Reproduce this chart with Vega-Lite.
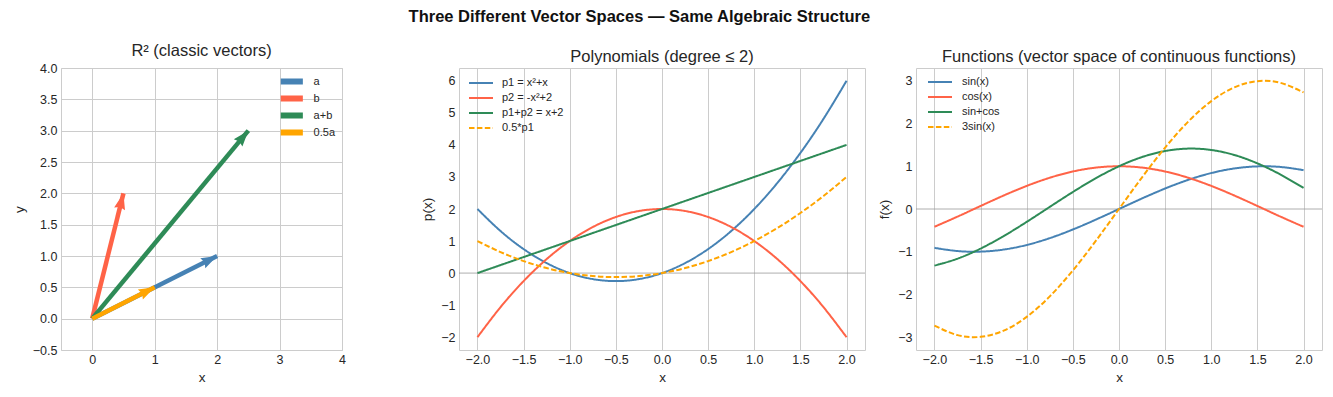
{
  "$schema": "https://vega.github.io/schema/vega-lite/v6.json",
  "padding": {"left": 11, "top": 8, "right": 5, "bottom": 5},
  "title": {"text": "Three Different Vector Spaces — Same Algebraic Structure", "fontSize": 16.5, "fontWeight": "bold", "color": "#111111", "anchor": "middle", "dx": -28, "offset": 17},
  "config": {
    "font": "Liberation Sans",
    "view": {"stroke": "#cccccc", "strokeWidth": 1},
    "axis": {"domain": false, "ticks": false, "gridColor": "#cccccc", "gridWidth": 1, "gridOpacity": 1, "labelFontSize": 12.5, "labelColor": "#262626", "titleFontSize": 13.5, "titleColor": "#262626", "titleFontWeight": "normal", "labelOverlap": false, "labelFlush": false},
    "axisX": {"titlePadding": 5, "labelPadding": 3},
    "axisY": {"titlePadding": 6, "labelPadding": 4},
    "title": {"fontSize": 16.5, "fontWeight": "normal", "color": "#262626", "offset": 3},
    "legend": {"labelFontSize": 11, "labelColor": "#262626", "padding": 0, "rowPadding": 1}
  },
  "datasets": {
    "vectors": [
      {"vector": "a", "x0": 0, "y0": 0, "x": 2, "y": 1},
      {"vector": "b", "x0": 0, "y0": 0, "x": 0.5, "y": 2},
      {"vector": "a+b", "x0": 0, "y0": 0, "x": 2.5, "y": 3},
      {"vector": "0.5a", "x0": 0, "y0": 0, "x": 1, "y": 0.5}
    ],
    "poly": [
      {"s": "p1 = x²+x", "x": -2, "y": 2}, {"s": "p1 = x²+x", "x": -1.75, "y": 1.3125}, {"s": "p1 = x²+x", "x": -1.5, "y": 0.75}, {"s": "p1 = x²+x", "x": -1.25, "y": 0.3125}, {"s": "p1 = x²+x", "x": -1, "y": 0}, {"s": "p1 = x²+x", "x": -0.75, "y": -0.1875}, {"s": "p1 = x²+x", "x": -0.5, "y": -0.25}, {"s": "p1 = x²+x", "x": -0.25, "y": -0.1875}, {"s": "p1 = x²+x", "x": 0, "y": 0}, {"s": "p1 = x²+x", "x": 0.25, "y": 0.3125}, {"s": "p1 = x²+x", "x": 0.5, "y": 0.75}, {"s": "p1 = x²+x", "x": 0.75, "y": 1.3125}, {"s": "p1 = x²+x", "x": 1, "y": 2}, {"s": "p1 = x²+x", "x": 1.25, "y": 2.8125}, {"s": "p1 = x²+x", "x": 1.5, "y": 3.75}, {"s": "p1 = x²+x", "x": 1.75, "y": 4.8125}, {"s": "p1 = x²+x", "x": 2, "y": 6},
      {"s": "p2 = -x²+2", "x": -2, "y": -2}, {"s": "p2 = -x²+2", "x": -1.75, "y": -1.0625}, {"s": "p2 = -x²+2", "x": -1.5, "y": -0.25}, {"s": "p2 = -x²+2", "x": -1.25, "y": 0.4375}, {"s": "p2 = -x²+2", "x": -1, "y": 1}, {"s": "p2 = -x²+2", "x": -0.75, "y": 1.4375}, {"s": "p2 = -x²+2", "x": -0.5, "y": 1.75}, {"s": "p2 = -x²+2", "x": -0.25, "y": 1.9375}, {"s": "p2 = -x²+2", "x": 0, "y": 2}, {"s": "p2 = -x²+2", "x": 0.25, "y": 1.9375}, {"s": "p2 = -x²+2", "x": 0.5, "y": 1.75}, {"s": "p2 = -x²+2", "x": 0.75, "y": 1.4375}, {"s": "p2 = -x²+2", "x": 1, "y": 1}, {"s": "p2 = -x²+2", "x": 1.25, "y": 0.4375}, {"s": "p2 = -x²+2", "x": 1.5, "y": -0.25}, {"s": "p2 = -x²+2", "x": 1.75, "y": -1.0625}, {"s": "p2 = -x²+2", "x": 2, "y": -2},
      {"s": "p1+p2 = x+2", "x": -2, "y": 0}, {"s": "p1+p2 = x+2", "x": 2, "y": 4},
      {"s": "0.5*p1", "x": -2, "y": 1}, {"s": "0.5*p1", "x": -1.75, "y": 0.65625}, {"s": "0.5*p1", "x": -1.5, "y": 0.375}, {"s": "0.5*p1", "x": -1.25, "y": 0.15625}, {"s": "0.5*p1", "x": -1, "y": 0}, {"s": "0.5*p1", "x": -0.75, "y": -0.09375}, {"s": "0.5*p1", "x": -0.5, "y": -0.125}, {"s": "0.5*p1", "x": -0.25, "y": -0.09375}, {"s": "0.5*p1", "x": 0, "y": 0}, {"s": "0.5*p1", "x": 0.25, "y": 0.15625}, {"s": "0.5*p1", "x": 0.5, "y": 0.375}, {"s": "0.5*p1", "x": 0.75, "y": 0.65625}, {"s": "0.5*p1", "x": 1, "y": 1}, {"s": "0.5*p1", "x": 1.25, "y": 1.40625}, {"s": "0.5*p1", "x": 1.5, "y": 1.875}, {"s": "0.5*p1", "x": 1.75, "y": 2.40625}, {"s": "0.5*p1", "x": 2, "y": 3}
    ],
    "funcs": [
      {"s": "sin(x)", "x": -2, "y": -0.9093}, {"s": "sin(x)", "x": -1.75, "y": -0.984}, {"s": "sin(x)", "x": -1.5, "y": -0.9975}, {"s": "sin(x)", "x": -1.25, "y": -0.949}, {"s": "sin(x)", "x": -1, "y": -0.8415}, {"s": "sin(x)", "x": -0.75, "y": -0.6816}, {"s": "sin(x)", "x": -0.5, "y": -0.4794}, {"s": "sin(x)", "x": -0.25, "y": -0.2474}, {"s": "sin(x)", "x": 0, "y": 0}, {"s": "sin(x)", "x": 0.25, "y": 0.2474}, {"s": "sin(x)", "x": 0.5, "y": 0.4794}, {"s": "sin(x)", "x": 0.75, "y": 0.6816}, {"s": "sin(x)", "x": 1, "y": 0.8415}, {"s": "sin(x)", "x": 1.25, "y": 0.949}, {"s": "sin(x)", "x": 1.5, "y": 0.9975}, {"s": "sin(x)", "x": 1.75, "y": 0.984}, {"s": "sin(x)", "x": 2, "y": 0.9093},
      {"s": "cos(x)", "x": -2, "y": -0.4161}, {"s": "cos(x)", "x": -1.75, "y": -0.1782}, {"s": "cos(x)", "x": -1.5, "y": 0.0707}, {"s": "cos(x)", "x": -1.25, "y": 0.3153}, {"s": "cos(x)", "x": -1, "y": 0.5403}, {"s": "cos(x)", "x": -0.75, "y": 0.7317}, {"s": "cos(x)", "x": -0.5, "y": 0.8776}, {"s": "cos(x)", "x": -0.25, "y": 0.9689}, {"s": "cos(x)", "x": 0, "y": 1}, {"s": "cos(x)", "x": 0.25, "y": 0.9689}, {"s": "cos(x)", "x": 0.5, "y": 0.8776}, {"s": "cos(x)", "x": 0.75, "y": 0.7317}, {"s": "cos(x)", "x": 1, "y": 0.5403}, {"s": "cos(x)", "x": 1.25, "y": 0.3153}, {"s": "cos(x)", "x": 1.5, "y": 0.0707}, {"s": "cos(x)", "x": 1.75, "y": -0.1782}, {"s": "cos(x)", "x": 2, "y": -0.4161},
      {"s": "sin+cos", "x": -2, "y": -1.3254}, {"s": "sin+cos", "x": -1.75, "y": -1.1622}, {"s": "sin+cos", "x": -1.5, "y": -0.9268}, {"s": "sin+cos", "x": -1.25, "y": -0.6337}, {"s": "sin+cos", "x": -1, "y": -0.3012}, {"s": "sin+cos", "x": -0.75, "y": 0.0501}, {"s": "sin+cos", "x": -0.5, "y": 0.3982}, {"s": "sin+cos", "x": -0.25, "y": 0.7215}, {"s": "sin+cos", "x": 0, "y": 1}, {"s": "sin+cos", "x": 0.25, "y": 1.2163}, {"s": "sin+cos", "x": 0.5, "y": 1.357}, {"s": "sin+cos", "x": 0.75, "y": 1.4133}, {"s": "sin+cos", "x": 1, "y": 1.3818}, {"s": "sin+cos", "x": 1.25, "y": 1.2643}, {"s": "sin+cos", "x": 1.5, "y": 1.0682}, {"s": "sin+cos", "x": 1.75, "y": 0.8058}, {"s": "sin+cos", "x": 2, "y": 0.4932},
      {"s": "3sin(x)", "x": -2, "y": -2.7279}, {"s": "3sin(x)", "x": -1.75, "y": -2.952}, {"s": "3sin(x)", "x": -1.5, "y": -2.9925}, {"s": "3sin(x)", "x": -1.25, "y": -2.847}, {"s": "3sin(x)", "x": -1, "y": -2.5245}, {"s": "3sin(x)", "x": -0.75, "y": -2.0448}, {"s": "3sin(x)", "x": -0.5, "y": -1.4382}, {"s": "3sin(x)", "x": -0.25, "y": -0.7422}, {"s": "3sin(x)", "x": 0, "y": 0}, {"s": "3sin(x)", "x": 0.25, "y": 0.7422}, {"s": "3sin(x)", "x": 0.5, "y": 1.4382}, {"s": "3sin(x)", "x": 0.75, "y": 2.0448}, {"s": "3sin(x)", "x": 1, "y": 2.5245}, {"s": "3sin(x)", "x": 1.25, "y": 2.847}, {"s": "3sin(x)", "x": 1.5, "y": 2.9925}, {"s": "3sin(x)", "x": 1.75, "y": 2.952}, {"s": "3sin(x)", "x": 2, "y": 2.7279}
    ]
  },
  "spacing": 117,
  "bounds": "flush",
  "resolve": {
    "scale": {"color": "independent", "fill": "independent", "stroke": "independent", "strokeDash": "independent", "strokeWidth": "independent", "x": "independent", "y": "independent"},
    "legend": {"color": "independent", "fill": "independent", "stroke": "independent", "strokeDash": "independent", "strokeWidth": "independent"}
  },
  "hconcat": [
    {
      "width": 281,
      "height": 282,
      "title": "R² (classic vectors)",
      "data": {"name": "vectors"},
      "layer": [
        {
          "mark": {"type": "rule", "strokeWidth": 4.5, "strokeCap": "butt"},
          "encoding": {
            "x": {"field": "x0", "type": "quantitative", "scale": {"domain": [-0.5, 4], "nice": false, "zero": false}, "axis": {"values": [0, 1, 2, 3, 4], "format": "d", "title": "x"}},
            "y": {"field": "y0", "type": "quantitative", "scale": {"domain": [-0.5, 4], "nice": false, "zero": false}, "axis": {"values": [-0.5, 0, 0.5, 1, 1.5, 2, 2.5, 3, 3.5, 4], "format": ".1f", "title": "y"}},
            "x2": {"field": "x"},
            "y2": {"field": "y"},
            "color": {"field": "vector", "type": "nominal", "scale": {"domain": ["a", "b", "a+b", "0.5a"], "range": ["#4682b4", "#ff6347", "#2e8b57", "#ffa500"]},
              "legend": {"title": null, "orient": "none", "legendX": 225.3, "legendY": 8, "symbolType": "M-2.6,-0.41H2.6V0.41H-2.6Z", "symbolSize": 54, "symbolStrokeWidth": 3, "labelOffset": 16.3, "rowPadding": 0}}
          }
        },
        {
          "transform": [{"calculate": "atan2(datum.x, datum.y) * 180 / PI", "as": "angle"}],
          "mark": {"type": "point", "filled": true, "opacity": 1, "shape": "M0,0L1.4,4L0,3.5L-1.4,4Z", "size": 64, "strokeWidth": 0},
          "encoding": {
            "x": {"field": "x", "type": "quantitative", "axis": {"values": [0, 1, 2, 3, 4], "format": "d", "title": "x"}},
            "y": {"field": "y", "type": "quantitative", "axis": {"values": [-0.5, 0, 0.5, 1, 1.5, 2, 2.5, 3, 3.5, 4], "format": ".1f", "title": "y"}},
            "angle": {"field": "angle", "type": "quantitative", "scale": null},
            "fill": {"field": "vector", "type": "nominal", "scale": {"domain": ["a", "b", "a+b", "0.5a"], "range": ["#4682b4", "#ff6347", "#2e8b57", "#ffa500"]}, "legend": null}
          }
        }
      ]
    },
    {
      "spacing": 51,
      "bounds": "flush",
      "resolve": {
        "scale": {"color": "independent", "strokeDash": "independent", "strokeWidth": "independent", "x": "independent", "y": "independent"},
        "legend": {"color": "independent", "strokeDash": "independent", "strokeWidth": "independent"}
      },
      "hconcat": [
        {
          "width": 406,
          "height": 282,
          "title": "Polynomials (degree ≤ 2)",
          "layer": [
            {
              "data": {"values": [{}]},
              "mark": {"type": "rule", "color": "#999999", "strokeWidth": 0.8},
              "encoding": {"y": {"datum": 0, "type": "quantitative", "scale": {"domain": [-2.4, 6.4], "nice": false, "zero": false}, "axis": {"values": [-2, -1, 0, 1, 2, 3, 4, 5, 6], "format": "d", "title": "p(x)"}}}
            },
            {
              "data": {"name": "poly"},
              "mark": {"type": "line", "interpolate": "natural"},
              "encoding": {
                "x": {"field": "x", "type": "quantitative", "scale": {"domain": [-2.2, 2.2], "nice": false, "zero": false}, "axis": {"values": [-2, -1.5, -1, -0.5, 0, 0.5, 1, 1.5, 2], "format": ".1f", "title": "x"}},
                "y": {"field": "y", "type": "quantitative", "scale": {"domain": [-2.4, 6.4], "nice": false, "zero": false}, "axis": {"values": [-2, -1, 0, 1, 2, 3, 4, 5, 6], "format": "d", "title": "p(x)"}},
                "color": {"field": "s", "type": "nominal", "scale": {"domain": ["p1 = x²+x", "p2 = -x²+2", "p1+p2 = x+2", "0.5*p1"], "range": ["#4682b4", "#ff6347", "#2e8b57", "#ffa500"]},
                  "legend": {"title": null, "orient": "none", "legendX": 13.5, "legendY": 6.5, "symbolType": "M-1.6,0H1.6", "symbolSize": 225, "labelOffset": 12.5, "rowPadding": 1}},
                "strokeDash": {"field": "s", "type": "nominal", "scale": {"domain": ["p1 = x²+x", "p2 = -x²+2", "p1+p2 = x+2", "0.5*p1"], "range": [[1, 0], [1, 0], [1, 0], [5.5, 2.4]]},
                  "legend": {"title": null, "orient": "none", "legendX": 13.5, "legendY": 6.5, "symbolType": "M-1.6,0H1.6", "symbolSize": 225, "labelOffset": 12.5, "rowPadding": 1}},
                "strokeWidth": {"field": "s", "type": "nominal", "scale": {"domain": ["p1 = x²+x", "p2 = -x²+2", "p1+p2 = x+2", "0.5*p1"], "range": [2, 2, 3.2, 2]},
                  "legend": {"title": null, "orient": "none", "legendX": 13.5, "legendY": 6.5, "symbolType": "M-1.6,0H1.6", "symbolSize": 225, "labelOffset": 12.5, "rowPadding": 1}}
              }
            }
          ]
        },
        {
          "width": 406,
          "height": 282,
          "title": "Functions (vector space of continuous functions)",
          "layer": [
            {
              "data": {"values": [{}]},
              "mark": {"type": "rule", "color": "#999999", "strokeWidth": 0.8},
              "encoding": {"y": {"datum": 0, "type": "quantitative", "scale": {"domain": [-3.3, 3.3], "nice": false, "zero": false}, "axis": {"values": [-3, -2, -1, 0, 1, 2, 3], "format": "d", "title": "f(x)"}}}
            },
            {
              "data": {"name": "funcs"},
              "mark": {"type": "line", "interpolate": "natural"},
              "encoding": {
                "x": {"field": "x", "type": "quantitative", "scale": {"domain": [-2.2, 2.2], "nice": false, "zero": false}, "axis": {"values": [-2, -1.5, -1, -0.5, 0, 0.5, 1, 1.5, 2], "format": ".1f", "title": "x"}},
                "y": {"field": "y", "type": "quantitative", "scale": {"domain": [-3.3, 3.3], "nice": false, "zero": false}, "axis": {"values": [-3, -2, -1, 0, 1, 2, 3], "format": "d", "title": "f(x)"}},
                "color": {"field": "s", "type": "nominal", "scale": {"domain": ["sin(x)", "cos(x)", "sin+cos", "3sin(x)"], "range": ["#4682b4", "#ff6347", "#2e8b57", "#ffa500"]},
                  "legend": {"title": null, "orient": "none", "legendX": 15.5, "legendY": 5.5, "symbolType": "M-1.6,0H1.6", "symbolSize": 225, "labelOffset": 13.5, "rowPadding": 1}},
                "strokeDash": {"field": "s", "type": "nominal", "scale": {"domain": ["sin(x)", "cos(x)", "sin+cos", "3sin(x)"], "range": [[1, 0], [1, 0], [1, 0], [5.5, 2.4]]},
                  "legend": {"title": null, "orient": "none", "legendX": 15.5, "legendY": 5.5, "symbolType": "M-1.6,0H1.6", "symbolSize": 225, "labelOffset": 13.5, "rowPadding": 1}},
                "strokeWidth": {"field": "s", "type": "nominal", "scale": {"domain": ["sin(x)", "cos(x)", "sin+cos", "3sin(x)"], "range": [2, 2, 3.2, 2]},
                  "legend": {"title": null, "orient": "none", "legendX": 15.5, "legendY": 5.5, "symbolType": "M-1.6,0H1.6", "symbolSize": 225, "labelOffset": 13.5, "rowPadding": 1}}
              }
            }
          ]
        }
      ]
    }
  ]
}
